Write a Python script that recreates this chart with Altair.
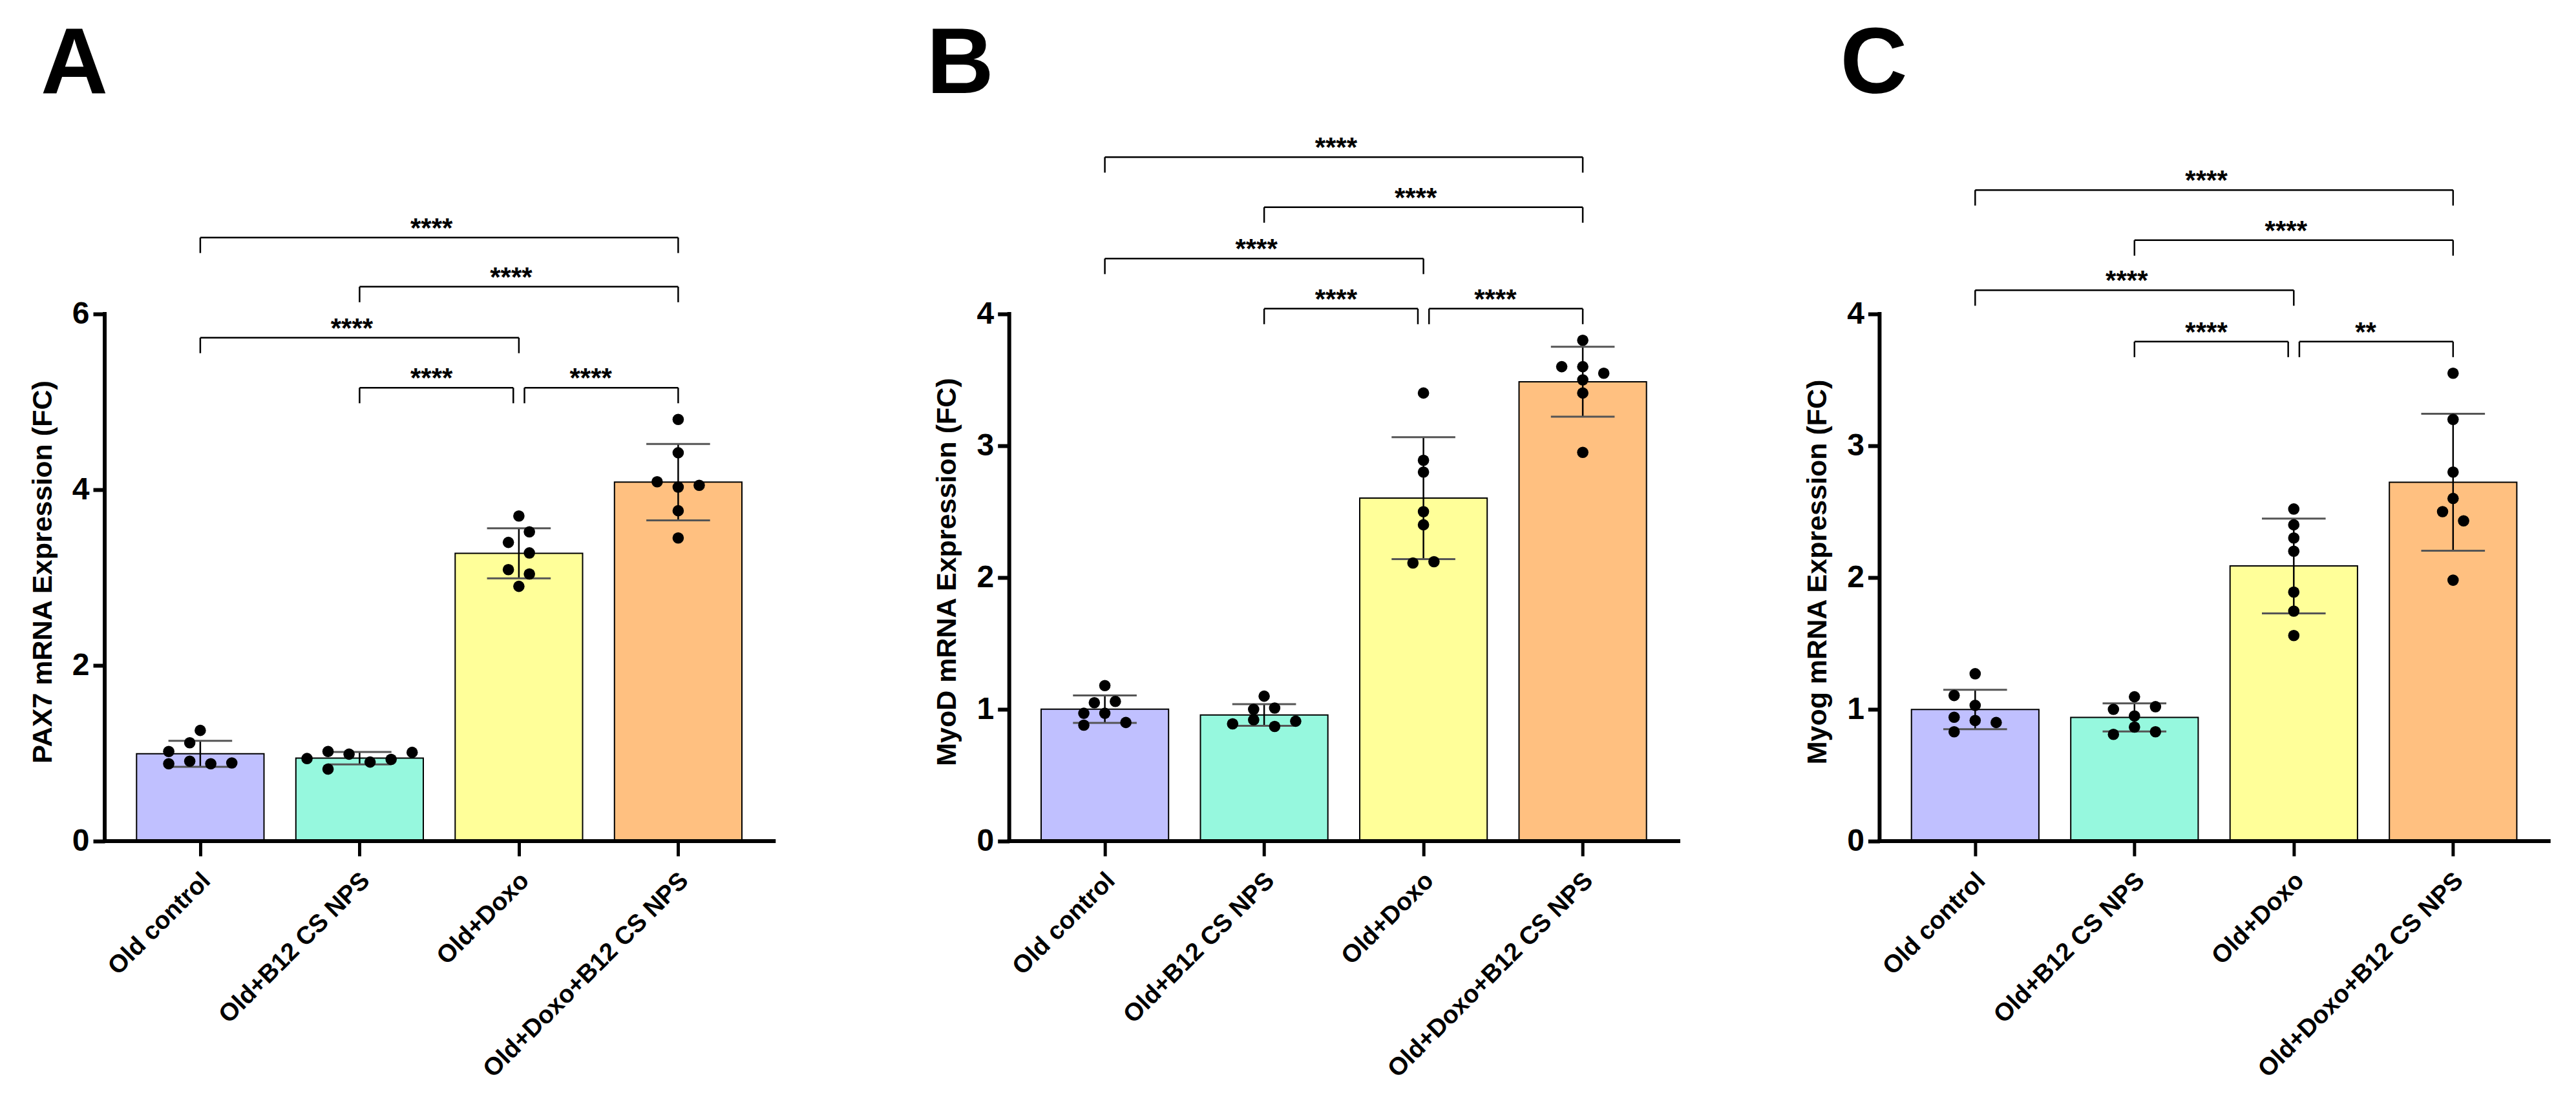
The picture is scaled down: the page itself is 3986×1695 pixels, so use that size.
import json
import altair as alt
import pandas as pd

GROUPS = ["Old control", "Old+B12 CS NPS", "Old+Doxo", "Old+Doxo+B12 CS NPS"]
COLORS = ["#C0C0FF", "#96F8DE", "#FFFF99", "#FFC080"]

# per-animal fold change, one list per group; slots = horizontal dot position
PAX7_VALUES = [
    [1.26, 1.12, 1.02, 0.88, 0.91, 0.88, 0.89],
    [0.94, 1.02, 0.99, 0.90, 0.93, 1.01, 0.82],
    [3.70, 3.40, 3.52, 3.28, 3.09, 3.04, 2.90],
    [4.80, 4.42, 4.09, 4.03, 4.05, 3.76, 3.45],
]
PAX7_SLOTS = [
    [0, -1, -3, -3, -1, 1, 3],
    [-5, -3, -1, 1, 3, 5, -3],
    [0, -1, 1, 1, -1, 1, 0],
    [0, 0, -2, 0, 2, 0, 0],
]
MYOD_VALUES = [
    [1.18, 1.05, 1.06, 0.97, 0.97, 0.88, 0.90],
    [1.10, 1.00, 1.01, 0.92, 0.89, 0.87, 0.91],
    [3.40, 2.89, 2.80, 2.50, 2.40, 2.11, 2.12],
    [3.80, 3.60, 3.60, 3.55, 3.50, 3.40, 2.95],
]
MYOD_SLOTS = [
    [0, -1, 1, -2, 0, -2, 2],
    [0, -1, 1, -1, -3, 1, 3],
    [0, 0, 0, 0, 0, -1, 1],
    [0, -2, 0, 2, 0, 0, 0],
]
MYOG_VALUES = [
    [1.27, 1.105, 1.03, 0.94, 0.915, 0.90, 0.83],
    [1.095, 1.00, 1.02, 0.95, 0.865, 0.81, 0.83],
    [2.52, 2.40, 2.30, 2.20, 1.89, 1.745, 1.56],
    [3.55, 3.20, 2.80, 2.60, 2.50, 2.43, 1.98],
]
MYOG_SLOTS = [
    [0, -2, 0, -2, 0, 2, -2],
    [0, -2, 2, 0, 0, -2, 2],
    [0, 0, 0, 0, 0, 0, 0],
    [0, 0, 0, 0, -1, 1, 0],
]

# significance brackets: from group, to group, height (data units), label
BR_FROM = [0, 1, 0, 1, 2]
BR_TO = [3, 3, 2, 2, 3]
PAX7_BR_Y = [6.87, 6.31, 5.73, 5.16, 5.16]
MYOD_BR_Y = [5.19, 4.81, 4.42, 4.04, 4.04]
MYOG_BR_Y = [4.94, 4.56, 4.18, 3.79, 3.79]
PAX7_BR_TEXT = ["****", "****", "****", "****", "****"]
MYOD_BR_TEXT = ["****", "****", "****", "****", "****"]
MYOG_BR_TEXT = ["****", "****", "****", "****", "**"]

SANS = "Liberation Sans, Arial, sans-serif"
NARROW = "Liberation Sans Narrow, Arial Narrow, Liberation Sans, sans-serif"

STEP = 246.5        # px per group
XMIN, XMAX = -0.6, 3.6
H = 1122
SLOT = 0.066
CAP = 0.2
GAP = 0.035


def panel(letter, letter_dx, ytitle, values, slots, yticks, ymax, br_y, br_text, extra=0):
    pts = pd.DataFrame([
        {"group": GROUPS[g], "idx": g, "value": v, "slot": s}
        for g in range(4) for v, s in zip(values[g], slots[g])
    ])
    width = (XMAX - XMIN) * STEP + extra
    xscale = alt.Scale(domain=[XMIN, XMIN + width / STEP], nice=False, zero=False)
    yscale = alt.Scale(domain=[0, ymax], nice=False)
    xaxis = alt.Axis(
        values=[0, 1, 2, 3], labelExpr=json.dumps(GROUPS) + "[datum.value]",
        labelAngle=-45, labelAlign="right", labelBaseline="top",
        labelFont=SANS, labelFontWeight="bold",
        labelFontSize=38.5, labelColor="black", labelPadding=19, labelOffset=-4,
        labelLimit=800, labelOverlap=False, labelFlush=False,
        tickSize=23, tickWidth=5, tickColor="black",
        domain=False, grid=False, title=None,
    )
    yaxis = alt.Axis(
        values=yticks, labelFont=NARROW, labelFontWeight="bold", labelFontSize=48,
        labelColor="black", labelPadding=6, labelOverlap=False, labelFlush=False,
        tickSize=18, tickWidth=6, tickColor="black", domain=False, grid=False,
        title=ytitle, titleFont=SANS, titleFontSize=43, titleFontWeight="bold",
        titleColor="black", titleX=-83, titleY=705, titleBaseline="alphabetic",
    )

    def X(f):
        return alt.X(f, type="quantitative", scale=xscale, axis=xaxis)

    def Y(f):
        return alt.Y(f, type="quantitative", scale=yscale, axis=yaxis)

    base = alt.Chart(pts)
    bars = base.transform_aggregate(
        mean="mean(value)", groupby=["idx", "group"]
    ).transform_calculate(
        x0=alt.datum.idx - 0.4, x1=alt.datum.idx + 0.4, zero="0"
    ).mark_bar(stroke="black", strokeWidth=2).encode(
        x=X("x0"), x2=alt.X2("x1"), y=Y("mean"), y2=alt.Y2("zero"),
        color=alt.Color("group:N", scale=alt.Scale(domain=GROUPS, range=COLORS), legend=None),
    )

    err = base.transform_aggregate(
        mean="mean(value)", sd="stdev(value)", groupby=["idx"]
    ).transform_calculate(
        lo=alt.datum.mean - alt.datum.sd, hi=alt.datum.mean + alt.datum.sd,
        cl=alt.datum.idx - CAP, cr=alt.datum.idx + CAP,
    )
    err_line = err.mark_rule(color="black", strokeWidth=2.5).encode(
        x=X("idx"), y=Y("lo"), y2=alt.Y2("hi"))
    cap_hi = err.mark_rule(color="#555555", strokeWidth=3).encode(
        x=X("cl"), x2=alt.X2("cr"), y=Y("hi"))
    cap_lo = err.mark_rule(color="#555555", strokeWidth=3).encode(
        x=X("cl"), x2=alt.X2("cr"), y=Y("lo"))

    dots = base.transform_calculate(
        xs=alt.datum.idx + alt.datum.slot * SLOT
    ).mark_circle(color="black", opacity=1, size=310).encode(
        x=X("xs"), y=Y("value"))

    axes = alt.Chart(pd.DataFrame({"x0": [XMIN], "x1": [XMAX], "y0": [0], "y1": [yticks[-1]]}))
    yline = axes.mark_rule(color="black", strokeWidth=6, strokeCap="square").encode(
        x=X("x0"), y=Y("y0"), y2=alt.Y2("y1"))
    xline = axes.mark_rule(color="black", strokeWidth=6, strokeCap="square").encode(
        x=X("x0"), x2=alt.X2("x1"), y=Y("y0"))

    rows, ends = [], []
    for i in range(len(BR_FROM)):
        a, b, y = BR_FROM[i], BR_TO[i], br_y[i]
        shared = [j for j in range(len(BR_FROM)) if j != i and br_y[j] == y]
        xl = a + (GAP if any(a in (BR_FROM[j], BR_TO[j]) for j in shared) else 0)
        xr = b - (GAP if any(b in (BR_FROM[j], BR_TO[j]) for j in shared) else 0)
        rows.append({"xl": xl, "xr": xr, "xm": (a + b) / 2, "y": y, "text": br_text[i]})
        ends += [{"x": xl, "y": y}, {"x": xr, "y": y}]
    brd = alt.Chart(pd.DataFrame(rows))
    br_h = brd.mark_rule(color="black", strokeWidth=2.5).encode(
        x=X("xl"), x2=alt.X2("xr"), y=Y("y"))
    br_v = alt.Chart(pd.DataFrame(ends)).mark_rule(
        color="black", strokeWidth=2.5, y2Offset=24
    ).encode(x=X("x"), y=Y("y"), y2=alt.Y2("y"))
    br_t = brd.mark_text(
        font=SANS, fontWeight="bold", fontSize=42, color="black",
        dx=-12, dy=-1, baseline="alphabetic", align="center"
    ).encode(x=X("xm"), y=Y("y"), text="text:N")

    return alt.layer(
        bars, err_line, cap_hi, cap_lo, dots, yline, xline, br_h, br_v, br_t
    ).properties(
        width=width, height=H,
        title=alt.TitleParams(
            text=letter, anchor="start", frame="group", font=SANS,
            fontSize=144, fontWeight="bold", color="black",
            dx=letter_dx, offset=-108, baseline="alphabetic",
        ),
    )


pa = panel("A", -99, "PAX7 mRNA Expression (FC)", PAX7_VALUES, PAX7_SLOTS,
           [0, 2, 4, 6], 8.25, PAX7_BR_Y, PAX7_BR_TEXT, extra=53)
pb = panel("B", -128, "MyoD mRNA Expression (FC)", MYOD_VALUES, MYOD_SLOTS,
           [0, 1, 2, 3, 4], 5.5, MYOD_BR_Y, MYOD_BR_TEXT)
pc = panel("C", -61, "Myog mRNA Expression (FC)", MYOG_VALUES, MYOG_SLOTS,
           [0, 1, 2, 3, 4], 5.5, MYOG_BR_Y, MYOG_BR_TEXT)

chart = alt.hconcat(pa, pb, pc, spacing=310.7, bounds="flush").properties(
    padding={"left": 37, "top": 21, "right": 5, "bottom": 5},
    background="white",
).configure_view(strokeWidth=0)

chart.save("out.html", embed_options={"renderer": "svg", "actions": False})
